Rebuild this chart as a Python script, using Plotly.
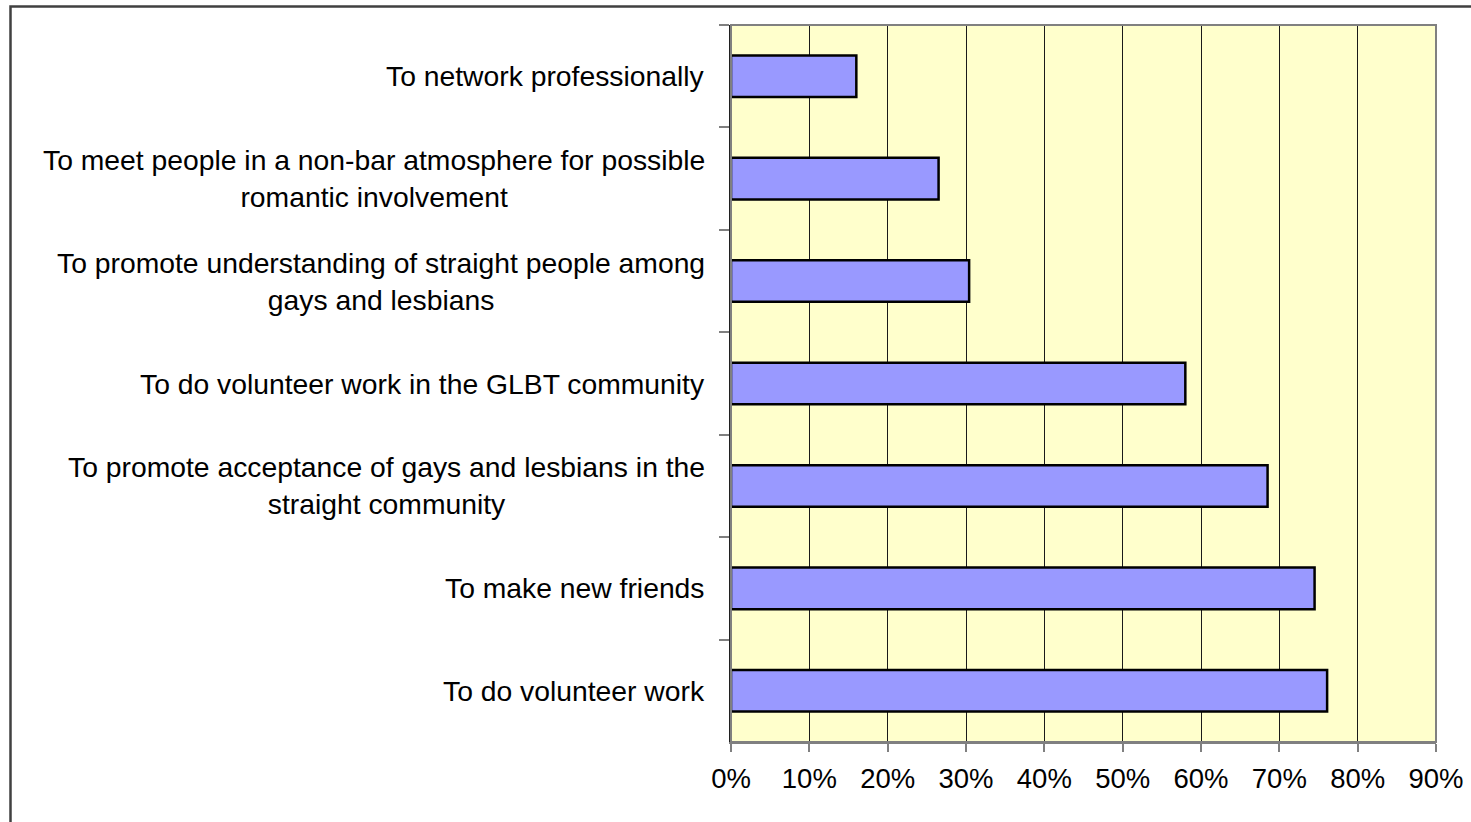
import plotly.graph_objects as go

categories = [
    "To network professionally",
    "To meet people in a non-bar atmosphere for possible<br>romantic involvement",
    "To promote understanding of straight people among<br>gays and lesbians",
    "To do volunteer work in the GLBT community",
    "To promote acceptance of gays and lesbians in the<br>straight community",
    "To make new friends",
    "To do volunteer work",
]
values = [0.160, 0.265, 0.304, 0.580, 0.685, 0.745, 0.761]
tick_vals = [0, 0.1, 0.2, 0.3, 0.4, 0.5, 0.6, 0.7, 0.8, 0.9]
tick_text = ["0%", "10%", "20%", "30%", "40%", "50%", "60%", "70%", "80%", "90%"]

W, H = 1471, 822
ml, mr, mt, mb = 731, 35, 25, 80
pw, ph = W - ml - mr, H - mt - mb
FONT = "Arial, Liberation Sans, sans-serif"
FS = 27.5
FS_LAB = 28.3

fig = go.Figure()
fig.add_trace(go.Bar(
    x=values, y=categories, orientation="h",
    marker=dict(color="#9999FF", line=dict(color="#000000", width=2.5)),
    hoverinfo="skip",
))

for c in categories:
    fig.add_annotation(
        x=0, xref="paper", y=c, yref="y", text=c, showarrow=False,
        xanchor="right", yanchor="middle", align="center", xshift=-24,
        font=dict(family=FONT, size=FS_LAB, color="#000000"),
    )

# plot area border (gray)
fig.add_shape(type="rect", xref="paper", yref="paper", x0=0, x1=1, y0=0, y1=1,
              line=dict(color="#808080", width=2), layer="above")
# outer chart border (top and left visible)
xl = (10.5 - ml) / pw
yt = 1 + (mt - 6.5) / ph
fig.add_shape(type="path", xref="paper", yref="paper",
              path=f"M {xl},-0.5 L {xl},{yt} L 1.2,{yt}",
              line=dict(color="#404040", width=2.5))

fig.update_layout(
    width=W, height=H, autosize=False,
    margin=dict(l=ml, r=mr, t=mt, b=mb, pad=0, autoexpand=False),
    paper_bgcolor="#FFFFFF", plot_bgcolor="#FFFFCC",
    showlegend=False, bargap=0.594,
    font=dict(family=FONT, size=FS, color="#000000"),
)
fig.update_xaxes(
    range=[0, 0.9], tickvals=tick_vals, ticktext=tick_text,
    showgrid=True, gridcolor="#1a1a1a", gridwidth=1,
    ticks="outside", ticklen=8, tickcolor="#808080", tickwidth=2,
    showline=True, linecolor="#808080", linewidth=2,
    zeroline=False, ticklabelstandoff=3, automargin=False,
    tickfont=dict(family=FONT, size=FS, color="#000000"),
)
fig.update_yaxes(
    type="category", autorange="reversed", tickson="boundaries",
    showticklabels=False, ticks="outside", ticklen=10,
    tickcolor="#808080", tickwidth=2, automargin=False,
    showline=True, linecolor="#202020", linewidth=2,
    showgrid=False, zeroline=False,
)

fig.write_html("out.html", config={"displayModeBar": False},
               post_script="document.body.style.margin='0';")
